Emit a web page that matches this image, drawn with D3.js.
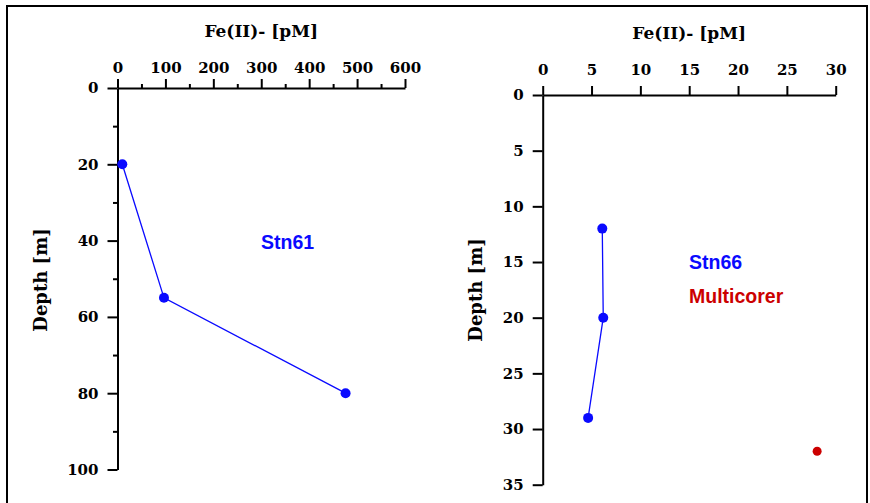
<!DOCTYPE html>
<html>
<head>
<meta charset="utf-8">
<script src="https://cdn.jsdelivr.net/npm/d3@7"></script>
<style>
  html, body { margin: 0; padding: 0; background: #fff; }
  svg { display: block; }
  .tick text { font-family: "DejaVu Serif", serif; font-weight: bold; font-size: 15px; fill: #000; }
  .domain, .tick line { stroke: #000; stroke-width: 2; }
</style>
</head>
<body>
<script>
// ---- Data ----
const stn61Fe = [10, 97, 476];
const stn61Depth = [20, 55, 80];
const stn66Fe = [6.1, 6.2, 4.65];
const stn66Depth = [12, 20, 29];
const multicorerFe = [28.1];
const multicorerDepth = [32];

const leftXTicks = [0, 100, 200, 300, 400, 500, 600];
const leftXMinor = [50, 150, 250, 350, 450, 550];
const leftYTicks = [0, 20, 40, 60, 80, 100];
const leftYMinor = [10, 30, 50, 70, 90];
const rightXTicks = [0, 5, 10, 15, 20, 25, 30];
const rightYTicks = [0, 5, 10, 15, 20, 25, 30, 35];

const xTitle = "Fe(II)- [pM]";
const yTitle = "Depth [m]";

const W = 870, H = 503;
const svg = d3.select("body").append("svg").attr("width", W).attr("height", H);

// outer frame
svg.append("rect").attr("x", 7).attr("y", 6).attr("width", 860).attr("height", 540)
  .attr("fill", "none").attr("stroke", "#000").attr("stroke-width", 2);

const blue = "#0a0aff", red = "#cc0000";

function panel(cfg) {
  const g = svg.append("g");
  const x = d3.scaleLinear().domain(cfg.xDomain).range(cfg.xRange);
  const y = d3.scaleLinear().domain(cfg.yDomain).range(cfg.yRange);

  // minor ticks
  if (cfg.xMinor) {
    g.append("g").attr("transform", `translate(0,${cfg.yRange[0]})`)
      .call(d3.axisTop(x).tickValues(cfg.xMinor).tickSize(4).tickFormat(""))
      .call(s => s.select(".domain").remove());
  }
  if (cfg.yMinor) {
    g.append("g").attr("transform", `translate(${cfg.xRange[0]},0)`)
      .call(d3.axisLeft(y).tickValues(cfg.yMinor).tickSize(4.5).tickFormat(""))
      .call(s => s.select(".domain").remove());
  }
  // major axes
  g.append("g").attr("transform", `translate(0,${cfg.yRange[0]})`)
    .call(d3.axisTop(x).tickValues(cfg.xTicks).tickSize(9).tickSizeOuter(0).tickPadding(cfg.xPad).tickFormat(d3.format("d")));
  g.append("g").attr("transform", `translate(${cfg.xRange[0]},0)`)
    .call(d3.axisLeft(y).tickValues(cfg.yTicks).tickSize(10).tickSizeOuter(0).tickPadding(9).tickFormat(d3.format("d")));

  // titles
  g.append("text").attr("x", (cfg.xRange[0] + cfg.xRange[1]) / 2).attr("y", cfg.titleY)
    .attr("text-anchor", "middle")
    .style("font-family", '"DejaVu Serif", serif').style("font-weight", "bold").style("font-size", "17px")
    .text(xTitle);
  g.append("text").attr("transform", `translate(${cfg.yTitleX},${cfg.yTitleY}) rotate(-90)`)
    .attr("text-anchor", "middle")
    .style("font-family", '"DejaVu Serif", serif').style("font-weight", "bold").style("font-size", "18px")
    .text(yTitle);

  // series
  cfg.series.forEach(s => {
    const pts = s.fe.map((v, i) => [v, s.depth[i]]);
    if (s.line) {
      g.append("path").datum(pts)
        .attr("d", d3.line().x(d => x(d[0])).y(d => y(d[1])))
        .attr("fill", "none").attr("stroke", s.color).attr("stroke-width", 1.3);
    }
    g.selectAll(null).data(pts).enter().append("circle")
      .attr("cx", d => x(d[0])).attr("cy", d => y(d[1])).attr("r", s.r)
      .attr("fill", s.color);
  });

  cfg.labels.forEach(l => {
    g.append("text").attr("x", l.x).attr("y", l.y)
      .style("font-family", '"Liberation Sans", Arial, sans-serif').style("font-weight", "bold")
      .style("font-size", "19.5px").attr("fill", l.color).text(l.text);
  });
}

panel({
  xDomain: [0, 600], xRange: [117.5, 405],
  yDomain: [0, 100], yRange: [88, 469.5],
  xTicks: leftXTicks, xMinor: leftXMinor, yTicks: leftYTicks, yMinor: leftYMinor,
  xPad: 6, titleY: 37, yTitleX: 47, yTitleY: 280,
  series: [{ fe: stn61Fe, depth: stn61Depth, color: blue, line: true, r: 5 }],
  labels: [{ x: 261, y: 249, text: "Stn61", color: blue }]
});

panel({
  xDomain: [0, 30], xRange: [542.7, 835.7],
  yDomain: [0, 35], yRange: [95, 484.7],
  xTicks: rightXTicks, yTicks: rightYTicks,
  xPad: 11, titleY: 39, yTitleX: 482, yTitleY: 290,
  series: [
    { fe: stn66Fe, depth: stn66Depth, color: blue, line: true, r: 5 },
    { fe: multicorerFe, depth: multicorerDepth, color: red, line: false, r: 4.5 }
  ],
  labels: [
    { x: 689, y: 269, text: "Stn66", color: blue },
    { x: 689, y: 303, text: "Multicorer", color: red }
  ]
});
</script>
</body>
</html>
